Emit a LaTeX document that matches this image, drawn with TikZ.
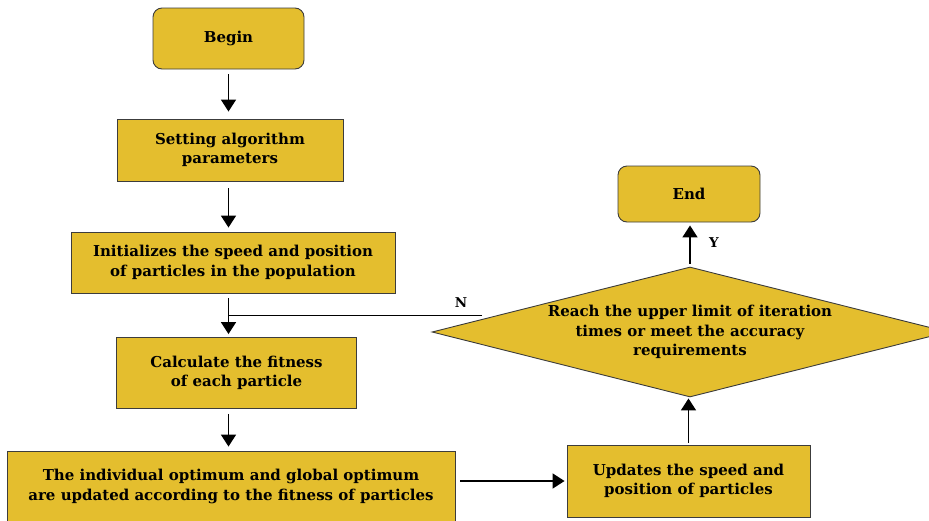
\documentclass[tikz,border=0pt]{standalone}
\usepackage{fontspec}
\setmainfont{DejaVu Serif}
\usetikzlibrary{shapes.geometric,arrows.meta,calc}
\definecolor{boxfill}{RGB}{228,190,46}
\definecolor{boxline}{RGB}{60,60,60}
\begin{document}
\begin{tikzpicture}[x=1pt,y=-1pt,
  box/.style={draw=boxline, fill=boxfill, line width=0.9pt, align=center,
    font=\fontsize{15}{19.5}\selectfont\bfseries, inner sep=0pt},
  term/.style={box, rounded corners=9pt},
  arr/.style={-{Triangle[length=12pt,width=15pt]}, line width=1.7pt},
  lbl/.style={font=\fontsize{13.5}{16}\selectfont\bfseries, inner sep=0pt}]
\useasboundingbox (0,0) rectangle (929,520);
\node[term, minimum width=151pt, minimum height=61pt] (begin) at (228.5,38.5) {Begin};
\node[box, minimum width=226pt, minimum height=62pt] (set) at (230,150) {Setting algorithm\\parameters};
\node[box, minimum width=324pt, minimum height=61pt] (init) at (233,262.5) {Initializes the speed and position\\of particles in the population};
\node[box, minimum width=240pt, minimum height=71pt] (calc) at (236.5,373) {Calculate the fitness\\of each particle};
\node[box, minimum width=448pt, minimum height=71pt] (ind) at (231,486.5) {The individual optimum and global optimum\\are updated according to the fitness of particles};
\node[box, minimum width=243pt, minimum height=72pt] (upd) at (688.5,481) {Updates the speed and\\position of particles};
\node[box, shape=diamond, shape aspect=3.97, minimum width=516pt, minimum height=130pt] (dia) at (690,332) {Reach the upper limit of iteration\\times or meet the accuracy\\requirements};
\node[term, minimum width=142pt, minimum height=56pt] (end) at (689,194) {End};
\coordinate (ax) at (228.5,0);
\coordinate (nst) at ($(dia.west)!0.25!(dia.north)$);
\draw[arr, shorten <=5pt, shorten >=7pt] (begin.south -| ax) -- (set.north -| ax);
\draw[arr, shorten <=7pt, shorten >=4pt] (set.south -| ax) -- (init.north -| ax);
\draw[arr, shorten <=5pt, shorten >=3pt] (init.south -| ax) -- (calc.north -| ax);
\draw[line width=1.2pt, shorten <=14pt] (nst) -- (nst -| ax);
\node[lbl] (n) at (461,303) {N};
\draw[arr, shorten <=5pt, shorten >=4pt] (calc.south -| ax) -- (ind.north -| ax);
\draw[arr, shorten <=5pt, shorten >=2pt] (ind.east |- upd.center) -- (upd.west);
\draw[arr, shorten <=2pt, shorten >=1pt] (upd.north) -- (upd.north |- dia.south);
\draw[arr, shorten <=3pt, shorten >=3pt] (dia.north) -- (dia.north |- end.south);
\node[lbl] (y) at (714,243) {Y};
\end{tikzpicture}
\end{document}
